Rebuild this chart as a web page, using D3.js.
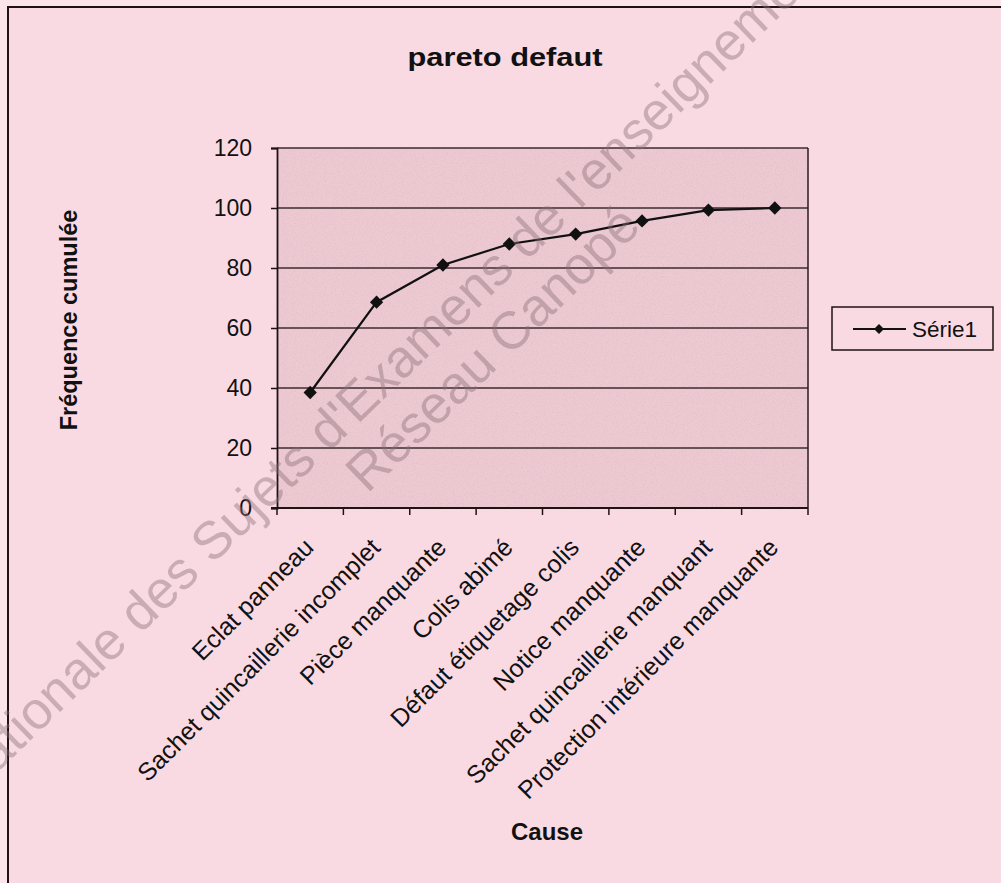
<!DOCTYPE html>
<html>
<head>
<meta charset="utf-8">
<script src="https://cdn.jsdelivr.net/npm/d3@7"></script>
<style>
  body { margin: 0; background: #fbe4ea; }
  text { font-family: "Liberation Sans", Arial, sans-serif; fill: #111; }
</style>
</head>
<body>
<script>
var categories = ["Eclat panneau", "Sachet quincaillerie incomplet", "Pièce manquante",
    "Colis abimé", "Défaut étiquetage colis", "Notice manquante",
    "Sachet quincaillerie manquant", "Protection intérieure manquante"];
var cumulative = [38.5, 68.6, 81, 88, 91.3, 95.7, 99.3, 100];
var yTicks = [0, 20, 40, 60, 80, 100, 120];
var seriesName = "Série1";

var width = 1001,
    height = 883,
    plot = {left: 277, right: 808, top: 148, bottom: 508};

var svg = d3.select("body").append("svg")
    .attr("width", width)
    .attr("height", height);

// speckled texture of the scanned plot area
var defs = svg.append("defs");
var noise = defs.append("filter").attr("id", "noise")
    .attr("x", 0).attr("y", 0).attr("width", 1).attr("height", 1);
noise.append("feTurbulence")
    .attr("type", "fractalNoise")
    .attr("baseFrequency", 0.9)
    .attr("numOctaves", 2)
    .attr("seed", 3);
noise.append("feColorMatrix")
    .attr("type", "matrix")
    .attr("values", "0 0 0 0 0.5  0 0 0 0 0.35  0 0 0 0 0.4  2.2 0 0 0 -1.0");

// chart frame
svg.append("rect")
    .attr("x", 8).attr("y", 7)
    .attr("width", width + 10).attr("height", height + 10)
    .attr("fill", "#f9dae3")
    .attr("stroke", "#1e1214")
    .attr("stroke-width", 2);

var x = d3.scaleBand()
    .domain(categories)
    .range([plot.left, plot.right]);

var y = d3.scaleLinear()
    .domain([0, 120])
    .range([plot.bottom, plot.top]);

// plot area
svg.append("rect")
    .attr("x", plot.left).attr("y", plot.top)
    .attr("width", plot.right - plot.left).attr("height", plot.bottom - plot.top)
    .attr("fill", "#edc9d2");
svg.append("rect")
    .attr("x", plot.left).attr("y", plot.top)
    .attr("width", plot.right - plot.left).attr("height", plot.bottom - plot.top)
    .attr("filter", "url(#noise)")
    .style("opacity", 0.22);

// gridlines
svg.selectAll(".grid")
    .data(yTicks.slice(1))
    .enter().append("line")
    .attr("class", "grid")
    .attr("x1", plot.left).attr("x2", plot.right)
    .attr("y1", function (d) { return y(d); })
    .attr("y2", function (d) { return y(d); })
    .attr("stroke", "#3b2b2f")
    .attr("stroke-width", 1.3);

// right border of plot area
svg.append("line")
    .attr("x1", plot.right).attr("x2", plot.right)
    .attr("y1", plot.top).attr("y2", plot.bottom)
    .attr("stroke", "#2a1a1e").attr("stroke-width", 1.5);

// y axis
var yAxis = d3.axisLeft(y)
    .tickValues(yTicks)
    .tickSize(6)
    .tickPadding(19);

var gy = svg.append("g")
    .attr("transform", "translate(" + plot.left + ",0)")
    .call(yAxis);
gy.select(".domain").attr("stroke", "#1e1214").attr("stroke-width", 1.8);
gy.selectAll(".tick line").attr("stroke", "#1e1214").attr("stroke-width", 1.5);
gy.selectAll(".tick text")
    .style("font-size", "23px")
    .style("font-family", "'Liberation Sans', Arial, sans-serif")
    .attr("fill", "#111");

// x axis with ticks between categories
svg.append("line")
    .attr("x1", plot.left - 6).attr("x2", plot.right)
    .attr("y1", plot.bottom).attr("y2", plot.bottom)
    .attr("stroke", "#1e1214").attr("stroke-width", 1.8);

var bounds = categories.map(function (c) { return x(c); }).concat([plot.right]);
svg.selectAll(".xtick")
    .data(bounds)
    .enter().append("line")
    .attr("class", "xtick")
    .attr("x1", function (d) { return d; })
    .attr("x2", function (d) { return d; })
    .attr("y1", plot.bottom).attr("y2", plot.bottom + 7)
    .attr("stroke", "#1e1214").attr("stroke-width", 1.5);

svg.selectAll(".xlabel")
    .data(categories)
    .enter().append("text")
    .attr("class", "xlabel")
    .attr("text-anchor", "end")
    .attr("transform", function (d) {
        return "translate(" + (x(d) + x.bandwidth() / 2 + 5) + "," + (plot.bottom + 41) + ")rotate(-45)";
    })
    .style("font-size", "25px")
    .text(function (d) { return d; });

// line + diamonds
var line = d3.line()
    .x(function (d, i) { return x(categories[i]) + x.bandwidth() / 2; })
    .y(function (d) { return y(d); });

svg.append("path")
    .datum(cumulative)
    .attr("d", line)
    .attr("fill", "none")
    .attr("stroke", "#111")
    .attr("stroke-width", 2.2);

var diamond = d3.symbol().type(d3.symbolSquare).size(88);
svg.selectAll(".marker")
    .data(cumulative)
    .enter().append("path")
    .attr("class", "marker")
    .attr("d", diamond)
    .attr("transform", function (d, i) {
        return "translate(" + (x(categories[i]) + x.bandwidth() / 2) + "," + y(d) + ")rotate(45)";
    })
    .attr("fill", "#111");

// titles
svg.append("text")
    .attr("x", 505).attr("y", 66)
    .attr("text-anchor", "middle")
    .attr("textLength", 195)
    .attr("lengthAdjust", "spacingAndGlyphs")
    .style("font-size", "25px")
    .style("font-weight", "bold")
    .text("pareto defaut");

svg.append("text")
    .attr("transform", "translate(77,320)rotate(-90)")
    .attr("text-anchor", "middle")
    .style("font-size", "23.5px")
    .style("font-weight", "bold")
    .text("Fréquence cumulée");

svg.append("text")
    .attr("x", 547).attr("y", 840)
    .attr("text-anchor", "middle")
    .style("font-size", "24px")
    .style("font-weight", "bold")
    .text("Cause");

// legend
var legend = svg.append("g");
legend.append("rect")
    .attr("x", 832).attr("y", 307)
    .attr("width", 161).attr("height", 43)
    .attr("fill", "none")
    .attr("stroke", "#1e1214").attr("stroke-width", 1.5);
legend.append("line")
    .attr("x1", 853).attr("x2", 906)
    .attr("y1", 329).attr("y2", 329)
    .attr("stroke", "#111").attr("stroke-width", 2.2);
legend.append("path")
    .attr("d", d3.symbol().type(d3.symbolSquare).size(50))
    .attr("transform", "translate(879,329)rotate(45)")
    .attr("fill", "#111");
legend.append("text")
    .attr("x", 912).attr("y", 337)
    .style("font-size", "22.5px")
    .text(seriesName);

// scanned watermark, placed by the middle of one glyph on its baseline
var wmAngle = -44;
function watermark(str, idx, px, py) {
    var t = svg.append("text")
        .style("font-size", "53px")
        .style("fill", "#8a6f76")
        .style("opacity", 0.42)
        .text(str);
    var n = t.node();
    var off = n.getSubStringLength(0, idx) + n.getSubStringLength(idx, 1) / 2;
    t.attr("transform", "translate(" + px + "," + py + ")rotate(" + wmAngle + ")translate(" + (-off) + ",0)");
}
var wmMain = "Banque Nationale des Sujets d'Examens de l'enseignement professionnel";
watermark(wmMain, wmMain.indexOf("e des"), 119, 655);
watermark("Réseau Canopé", 0, 381, 481);
</script>
</body>
</html>
